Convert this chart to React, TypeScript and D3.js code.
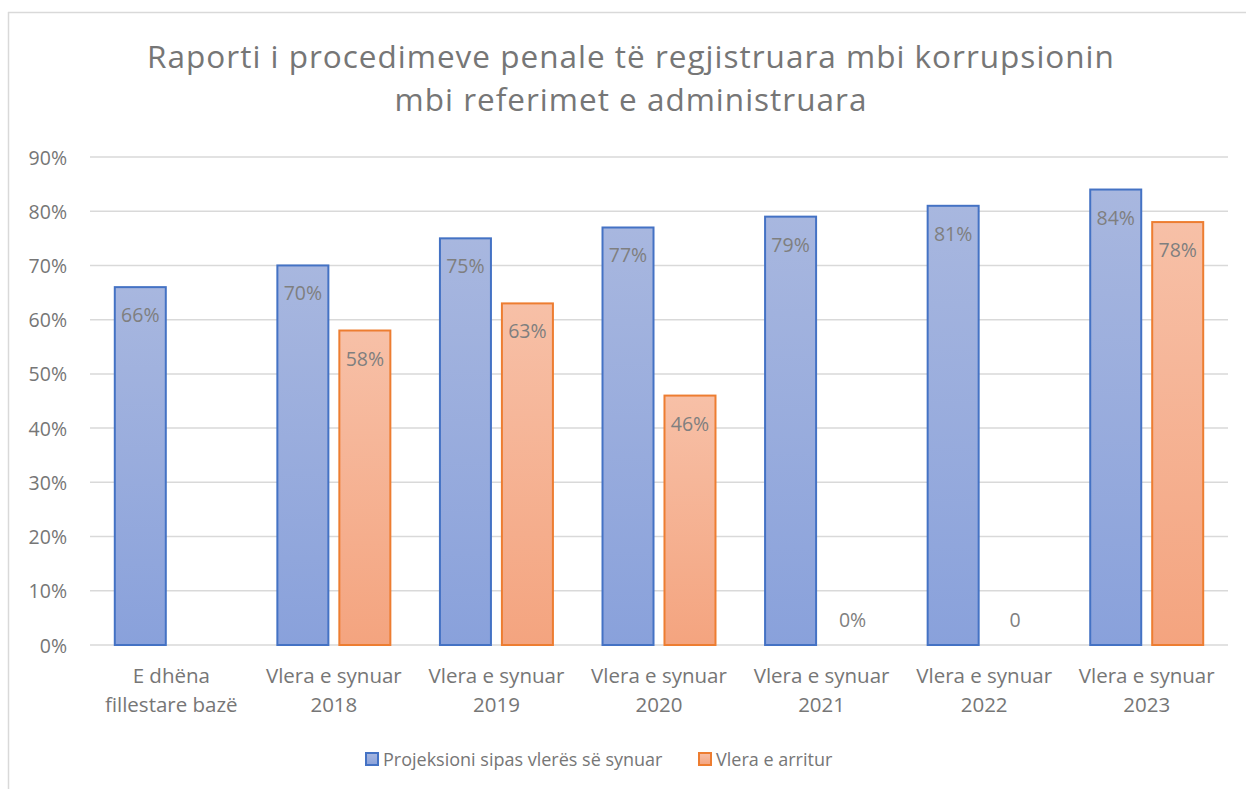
import React from "react";
import * as d3 from "d3";

const categories: string[][] = [
  ["E dhëna", "fillestare bazë"],
  ["Vlera e synuar", "2018"],
  ["Vlera e synuar", "2019"],
  ["Vlera e synuar", "2020"],
  ["Vlera e synuar", "2021"],
  ["Vlera e synuar", "2022"],
  ["Vlera e synuar", "2023"],
];
const seriesNames = ["Projeksioni sipas vlerës së synuar", "Vlera e arritur"];
const projected: (number | null)[] = [66, 70, 75, 77, 79, 81, 84];
const achieved: (number | null)[] = [null, 58, 63, 46, 0, 0, 78];
const achievedLabels: (string | null)[] = [null, "58%", "63%", "46%", "0%", "0", "78%"];
const yTicks = [0, 10, 20, 30, 40, 50, 60, 70, 80, 90];
const titleLines = [
  "Raporti i procedimeve penale të regjistruara mbi korrupsionin",
  "mbi referimet e administruara",
];

const W = 1246;
const H = 789;
const FONT = "'Open Sans', 'Noto Sans', sans-serif";
const TEXT = "#767676";
const LABEL = "#7F7F7F";

const fills = ["url(#gBlue)", "url(#gOrange)"];
const strokes = ["#4472C4", "#ED7D31"];

export default function App() {
  const x0 = d3
    .scaleBand<number>()
    .domain(categories.map((_, i) => i))
    .range([90, 1228])
    .padding(0);
  const x1 = d3
    .scaleBand<number>()
    .domain([0, 1])
    .range([0, x0.bandwidth()])
    .paddingInner(0.177)
    .paddingOuter(0.4);
  const y = d3.scaleLinear().domain([0, 90]).range([645, 157]);

  const series = [projected, achieved];
  const labels = [projected.map((v) => (v == null ? null : `${v}%`)), achievedLabels];

  return (
    <div style={{ position: "absolute", left: 0, top: 0 }}>
      <svg width={W} height={H} style={{ display: "block", background: "#fff" }}>
        <defs>
          <linearGradient id="gBlue" x1="0" y1="0" x2="0" y2="1">
            <stop offset="0%" stopColor="#A8B7DF" />
            <stop offset="100%" stopColor="#89A1DB" />
          </linearGradient>
          <linearGradient id="gOrange" x1="0" y1="0" x2="0" y2="1">
            <stop offset="0%" stopColor="#F7C0A7" />
            <stop offset="100%" stopColor="#F4A47F" />
          </linearGradient>
        </defs>
        {/* frame */}
        <line x1={8.5} x2={8.5} y1={12} y2={H} stroke="#D9D9D9" strokeWidth={1.5} />
        <line x1={8} x2={W} y1={12.5} y2={12.5} stroke="#D9D9D9" strokeWidth={1.5} />

        {/* title */}
        {titleLines.map((t, i) => (
          <text
            key={i}
            x={631}
            y={68 + i * 43}
            textAnchor="middle"
            fontFamily={FONT}
            fontSize={31.5}
            letterSpacing={1}
            fill={TEXT}
          >
            {t}
          </text>
        ))}

        {/* gridlines & y ticks */}
        {yTicks.map((t) => (
          <g key={t}>
            <line x1={90} x2={1228} y1={y(t)} y2={y(t)} stroke="#D9D9D9" strokeWidth={1.5} />
            <text
              x={67}
              y={y(t) + 7.5}
              textAnchor="end"
              fontFamily={FONT}
              fontSize={19.5}
              fill={TEXT}
            >
              {t}%
            </text>
          </g>
        ))}

        {/* bars */}
        {categories.map((_, ci) =>
          series.map((s, si) => {
            const v = s[ci];
            if (v == null) return null;
            const bx = (x0(ci) as number) + (x1(si) as number);
            const bw = x1.bandwidth();
            const top = y(v);
            const lbl = labels[si][ci];
            return (
              <g key={`${ci}-${si}`}>
                {v > 0 && (
                  <rect
                    x={bx}
                    y={top}
                    width={bw}
                    height={y(0) - top}
                    fill={fills[si]}
                    stroke={strokes[si]}
                    strokeWidth={2}
                  />
                )}
                {lbl && (
                  <text
                    x={bx + bw / 2}
                    y={v > 0 ? top + 35 : y(0) - 18}
                    textAnchor="middle"
                    fontFamily={FONT}
                    fontSize={19.5}
                    fill={LABEL}
                  >
                    {lbl}
                  </text>
                )}
              </g>
            );
          })
        )}

        {/* x labels */}
        {categories.map((lines, ci) => (
          <text
            key={ci}
            x={(x0(ci) as number) + x0.bandwidth() / 2}
            textAnchor="middle"
            fontFamily={FONT}
            fontSize={20.5}
            fill={TEXT}
          >
            {lines.map((l, li) => (
              <tspan key={li} x={(x0(ci) as number) + x0.bandwidth() / 2} y={683 + li * 29}>
                {l}
              </tspan>
            ))}
          </text>
        ))}

        {/* legend */}
        {[
          { name: seriesNames[0], sx: 366, tx: 383 },
          { name: seriesNames[1], sx: 699, tx: 716 },
        ].map((l, i) => (
          <g key={i}>
            <rect
              x={l.sx}
              y={753}
              width={12}
              height={12}
              fill={fills[i]}
              stroke={strokes[i]}
              strokeWidth={2}
            />
            <text x={l.tx} y={766} fontFamily={FONT} fontSize={18} fill={TEXT}>
              {l.name}
            </text>
          </g>
        ))}
      </svg>
    </div>
  );
}
